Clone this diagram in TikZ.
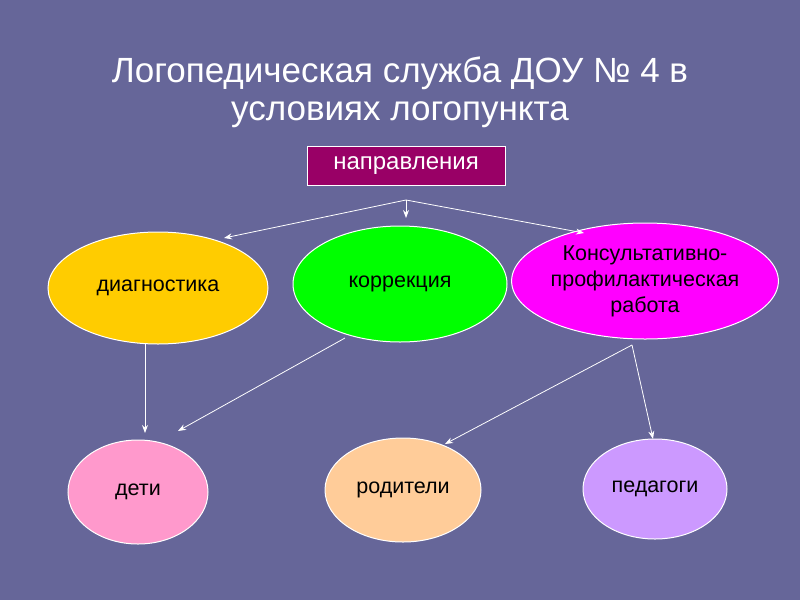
\documentclass[tikz,border=0pt]{standalone}
\usepackage{fontspec}
\setmainfont{Liberation Sans}
\usetikzlibrary{arrows.meta,shapes.geometric}
\begin{document}
\begin{tikzpicture}[x=1pt,y=-1pt,
  ell/.style={draw=white,line width=1pt,ellipse,inner sep=0pt,font=\fontsize{21.5}{26}\selectfont,align=center},
  arr/.style={draw=white,line width=0.8pt,-{Stealth[length=8pt,width=6pt]}}]
\fill[fill={rgb,255:red,102;green,102;blue,153}] (0,0) rectangle (800,600);
\useasboundingbox (0,0) rectangle (800,600);
\node[text=white,font=\fontsize{35}{38}\selectfont,align=center] (title) at (400,92) {Логопедическая служба ДОУ № 4 в\\условиях логопункта};
\node[draw=white,fill={rgb,255:red,153;green,0;blue,102},text=white,minimum width=198pt,minimum height=39pt,font=\fontsize{24}{26}\selectfont,line width=1pt,inner sep=0pt] (dir) at (406,165.5) {направления};
\coordinate (j) at (406,200);
\node[ell,fill={rgb,255:red,255;green,204;blue,0},minimum width=220pt,minimum height=112pt] (diag) at (158,288) {диагностика};
\node[ell,fill={rgb,255:red,0;green,255;blue,0},minimum width=214pt,minimum height=116pt] (korr) at (400,284) {коррекция};
\node[ell,fill={rgb,255:red,255;green,0;blue,255},minimum width=226pt,minimum height=116pt] (kons) at (645,281) {Консультативно-\\профилактическая\\работа};
\node[ell,fill={rgb,255:red,255;green,153;blue,204},minimum width=140pt,minimum height=104pt] (deti) at (138,492) {дети};
\node[ell,fill={rgb,255:red,255;green,204;blue,153},minimum width=156pt,minimum height=104pt] (rod) at (403,490) {родители};
\node[ell,fill={rgb,255:red,204;green,153;blue,255},minimum width=144pt,minimum height=100pt] (ped) at (655,489) {педагоги};
\coordinate (a1) at (224,238);
\coordinate (a2) at (406,218);
\coordinate (a3) at (584,233);
\draw[arr] (j) -- (a1);
\draw[arr] (j) -- (a2);
\draw[arr] (j) -- (a3);
\coordinate (d1) at (145,344);
\coordinate (d2) at (145,433);
\draw[arr] (d1) -- (d2);
\coordinate (k1) at (345,338);
\coordinate (k2) at (178,431);
\draw[arr] (k1) -- (k2);
\coordinate (s1) at (632,345);
\coordinate (s2) at (445,444);
\coordinate (s3) at (653,439);
\draw[arr] (s1) -- (s2);
\draw[arr] (s1) -- (s3);
\end{tikzpicture}
\end{document}
